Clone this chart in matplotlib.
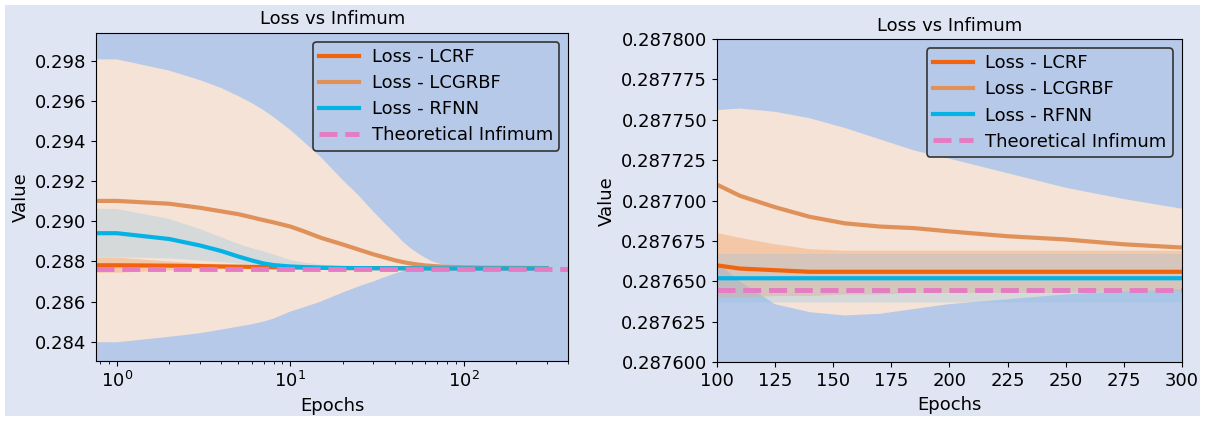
import matplotlib
matplotlib.use("Agg")
import matplotlib.pyplot as plt
from matplotlib.ticker import FormatStrFormatter, MultipleLocator

# epochs at which the curves were sampled (0 is clipped on the log axis)
epochs = [0, 1, 2, 3, 4, 5, 6, 7, 8, 10, 12, 15, 20, 25, 30, 35, 40, 45, 50, 55, 60, 65,
          70, 80, 90, 100, 110, 125, 140, 155, 170, 185, 200, 225, 250, 275, 300]

lcrf_mean = [0.28781, 0.28781, 0.28779, 0.28777, 0.28775, 0.28774, 0.28773, 0.28772, 0.28771,
             0.28770, 0.28769, 0.28768, 0.28767, 0.287668, 0.287666, 0.287665, 0.287664,
             0.287663, 0.287663, 0.287662, 0.287662, 0.287662,
             0.287662, 0.287662, 0.287661,
             0.287660, 0.287658, 0.287657, 0.287656, 0.287656, 0.287656, 0.287656, 0.287656,
             0.287656, 0.287656, 0.287656, 0.287656]
lcrf_upper = [0.28819, 0.28819, 0.28800, 0.28790, 0.28785, 0.28782, 0.28780, 0.28779, 0.28778,
              0.28776, 0.28775, 0.28773, 0.28771, 0.28770, 0.287695, 0.287693, 0.287692,
              0.287690, 0.287688, 0.287687, 0.287686, 0.287685,
              0.287685, 0.287684, 0.287683,
              0.287680, 0.287677, 0.287673, 0.287670, 0.287669, 0.287669, 0.287669, 0.287669,
              0.287669, 0.287669, 0.287669, 0.287669]
lcrf_lower = [0.28744, 0.28744, 0.28755, 0.28760, 0.28762, 0.28763, 0.28763, 0.28764, 0.28764,
              0.28764, 0.28764, 0.28764, 0.28764, 0.28764, 0.28764, 0.28764, 0.28764,
              0.28764, 0.28764, 0.28764, 0.28764, 0.28764,
              0.28764, 0.28764, 0.28764,
              0.287640, 0.287640, 0.287641, 0.287641, 0.287642, 0.287642, 0.287643, 0.287643,
              0.287643, 0.287643, 0.287644, 0.287644]

lcgrbf_mean = [0.29102, 0.29102, 0.29088, 0.29068, 0.29050, 0.29036, 0.29020, 0.29006, 0.28995,
               0.28974, 0.28950, 0.28918, 0.28885, 0.28858, 0.28836, 0.28820, 0.28806,
               0.28796, 0.28789, 0.28784, 0.28780, 0.28778,
               0.28776, 0.28773, 0.28772,
               0.287710, 0.287703, 0.287696, 0.287690, 0.287686, 0.287684, 0.287683, 0.287681,
               0.287678, 0.287676, 0.287673, 0.287671]
lcgrbf_upper = [0.29808, 0.29808, 0.29752, 0.29705, 0.29665, 0.29625, 0.29590, 0.29555, 0.29520,
                0.29456, 0.29395, 0.29320, 0.29207, 0.29125, 0.29050, 0.28990, 0.28940,
                0.28895, 0.28862, 0.28838, 0.28818, 0.28802,
                0.28792, 0.28781, 0.28777,
                0.287756, 0.287757, 0.287755, 0.287751, 0.287745, 0.287738, 0.287731, 0.287726,
                0.287717, 0.287708, 0.287701, 0.287695]
lcgrbf_lower = [0.28397, 0.28397, 0.28424, 0.28442, 0.28460, 0.28475, 0.28487, 0.28500, 0.28515,
                0.28550, 0.28572, 0.28600, 0.28645, 0.28677, 0.28700, 0.28722, 0.28740,
                0.28753, 0.28762, 0.28765, 0.28766, 0.287667,
                0.287667, 0.287666, 0.287664,
                0.287662, 0.287650, 0.287636, 0.287631, 0.287629, 0.287630, 0.287633, 0.287636,
                0.287639, 0.287642, 0.287644, 0.287645]

rfnn_mean = [0.28941, 0.28941, 0.28912, 0.28880, 0.28852, 0.28825, 0.28805, 0.28790, 0.28782,
             0.28775, 0.28772, 0.28769, 0.287675, 0.28767, 0.287665, 0.287662, 0.28766,
             0.287659, 0.287658, 0.287656, 0.287655, 0.287654,
             0.287654, 0.287653, 0.287653,
             0.287652, 0.287652, 0.287652, 0.287652, 0.287652, 0.287652, 0.287652, 0.287652,
             0.287652, 0.287652, 0.287652, 0.287652]
rfnn_upper = [0.29062, 0.29062, 0.29012, 0.28962, 0.28920, 0.28888, 0.28866, 0.28850, 0.28835,
              0.28807, 0.28795, 0.28784, 0.28776, 0.28772, 0.28770, 0.28769, 0.287685,
              0.28768, 0.287675, 0.287672, 0.287670, 0.287669,
              0.287668, 0.287667, 0.287667,
              0.287667, 0.287667, 0.287667, 0.287667, 0.287667, 0.287667, 0.287667, 0.287667,
              0.287667, 0.287667, 0.287667, 0.287667]
rfnn_lower = [0.28821, 0.28821, 0.28815, 0.28805, 0.28797, 0.28790, 0.28785, 0.28781, 0.28778,
              0.28773, 0.28770, 0.28767, 0.28765, 0.28764, 0.287638, 0.287638, 0.287638,
              0.287638, 0.287637, 0.287637, 0.287637, 0.287637,
              0.287637, 0.287637, 0.287637,
              0.287637, 0.287637, 0.287637, 0.287637, 0.287637, 0.287637, 0.287637, 0.287637,
              0.287637, 0.287637, 0.287637, 0.287637]

infimum = 0.287645

FIG_BG = "#dfe5f3"
AX_BG = "#b7c9e8"

plt.rcParams["font.family"] = "DejaVu Sans"
plt.rcParams["font.size"] = 13

fig = plt.figure(figsize=(12.05, 4.21), dpi=100, facecolor=FIG_BG)
fig.patch.set_edgecolor("white")
fig.patch.set_linewidth(6)

ax1 = fig.add_axes([0.0799, 0.1418, 0.3917, 0.7805])
ax2 = fig.add_axes([0.5948, 0.1394, 0.3861, 0.7679])


def draw(ax):
    ax.set_facecolor(AX_BG)
    ax.fill_between(epochs, lcgrbf_lower, lcgrbf_upper, color="#ffe8d3", alpha=0.85, lw=0)
    ax.fill_between(epochs, lcrf_lower, lcrf_upper, color="#f5a56e", alpha=0.45, lw=0)
    ax.fill_between(epochs, rfnn_lower, rfnn_upper, color="#8ec2e6", alpha=0.3, lw=0)
    ax.plot(epochs, lcrf_mean, color="#f0640f", lw=3, label="Loss - LCRF")
    ax.plot(epochs, lcgrbf_mean, color="#e0915a", lw=3, label="Loss - LCGRBF")
    ax.plot(epochs, rfnn_mean, color="#05b2e6", lw=3, label="Loss - RFNN")
    ax.axhline(infimum, color="#e47bc3", lw=3.5, ls="--", label="Theoretical Infimum")
    ax.set_title("Loss vs Infimum", fontsize=13)
    ax.set_xlabel("Epochs")
    ax.set_ylabel("Value")
    leg = ax.legend(loc="upper right", handlelength=2.2, handletextpad=0.7,
                    borderpad=0.35, labelspacing=0.45, facecolor=AX_BG,
                    edgecolor="#333333", framealpha=1)
    leg.get_frame().set_linewidth(1.2)


draw(ax1)
ax1.set_xscale("log")
ax1.set_xlim(0.76, 400)
ax1.set_ylim(0.28302, 0.29941)
ax1.yaxis.set_major_locator(MultipleLocator(0.002))
ax1.yaxis.set_major_formatter(FormatStrFormatter("%.3f"))

draw(ax2)
ax2.set_xlim(100, 300)
ax2.set_ylim(0.2876, 0.2878)
ax2.xaxis.set_major_locator(MultipleLocator(25))
ax2.yaxis.set_major_locator(MultipleLocator(0.000025))
ax2.yaxis.set_major_formatter(FormatStrFormatter("%.6f"))

fig.savefig("out.png", dpi=100, facecolor=fig.get_facecolor(), edgecolor="white")
